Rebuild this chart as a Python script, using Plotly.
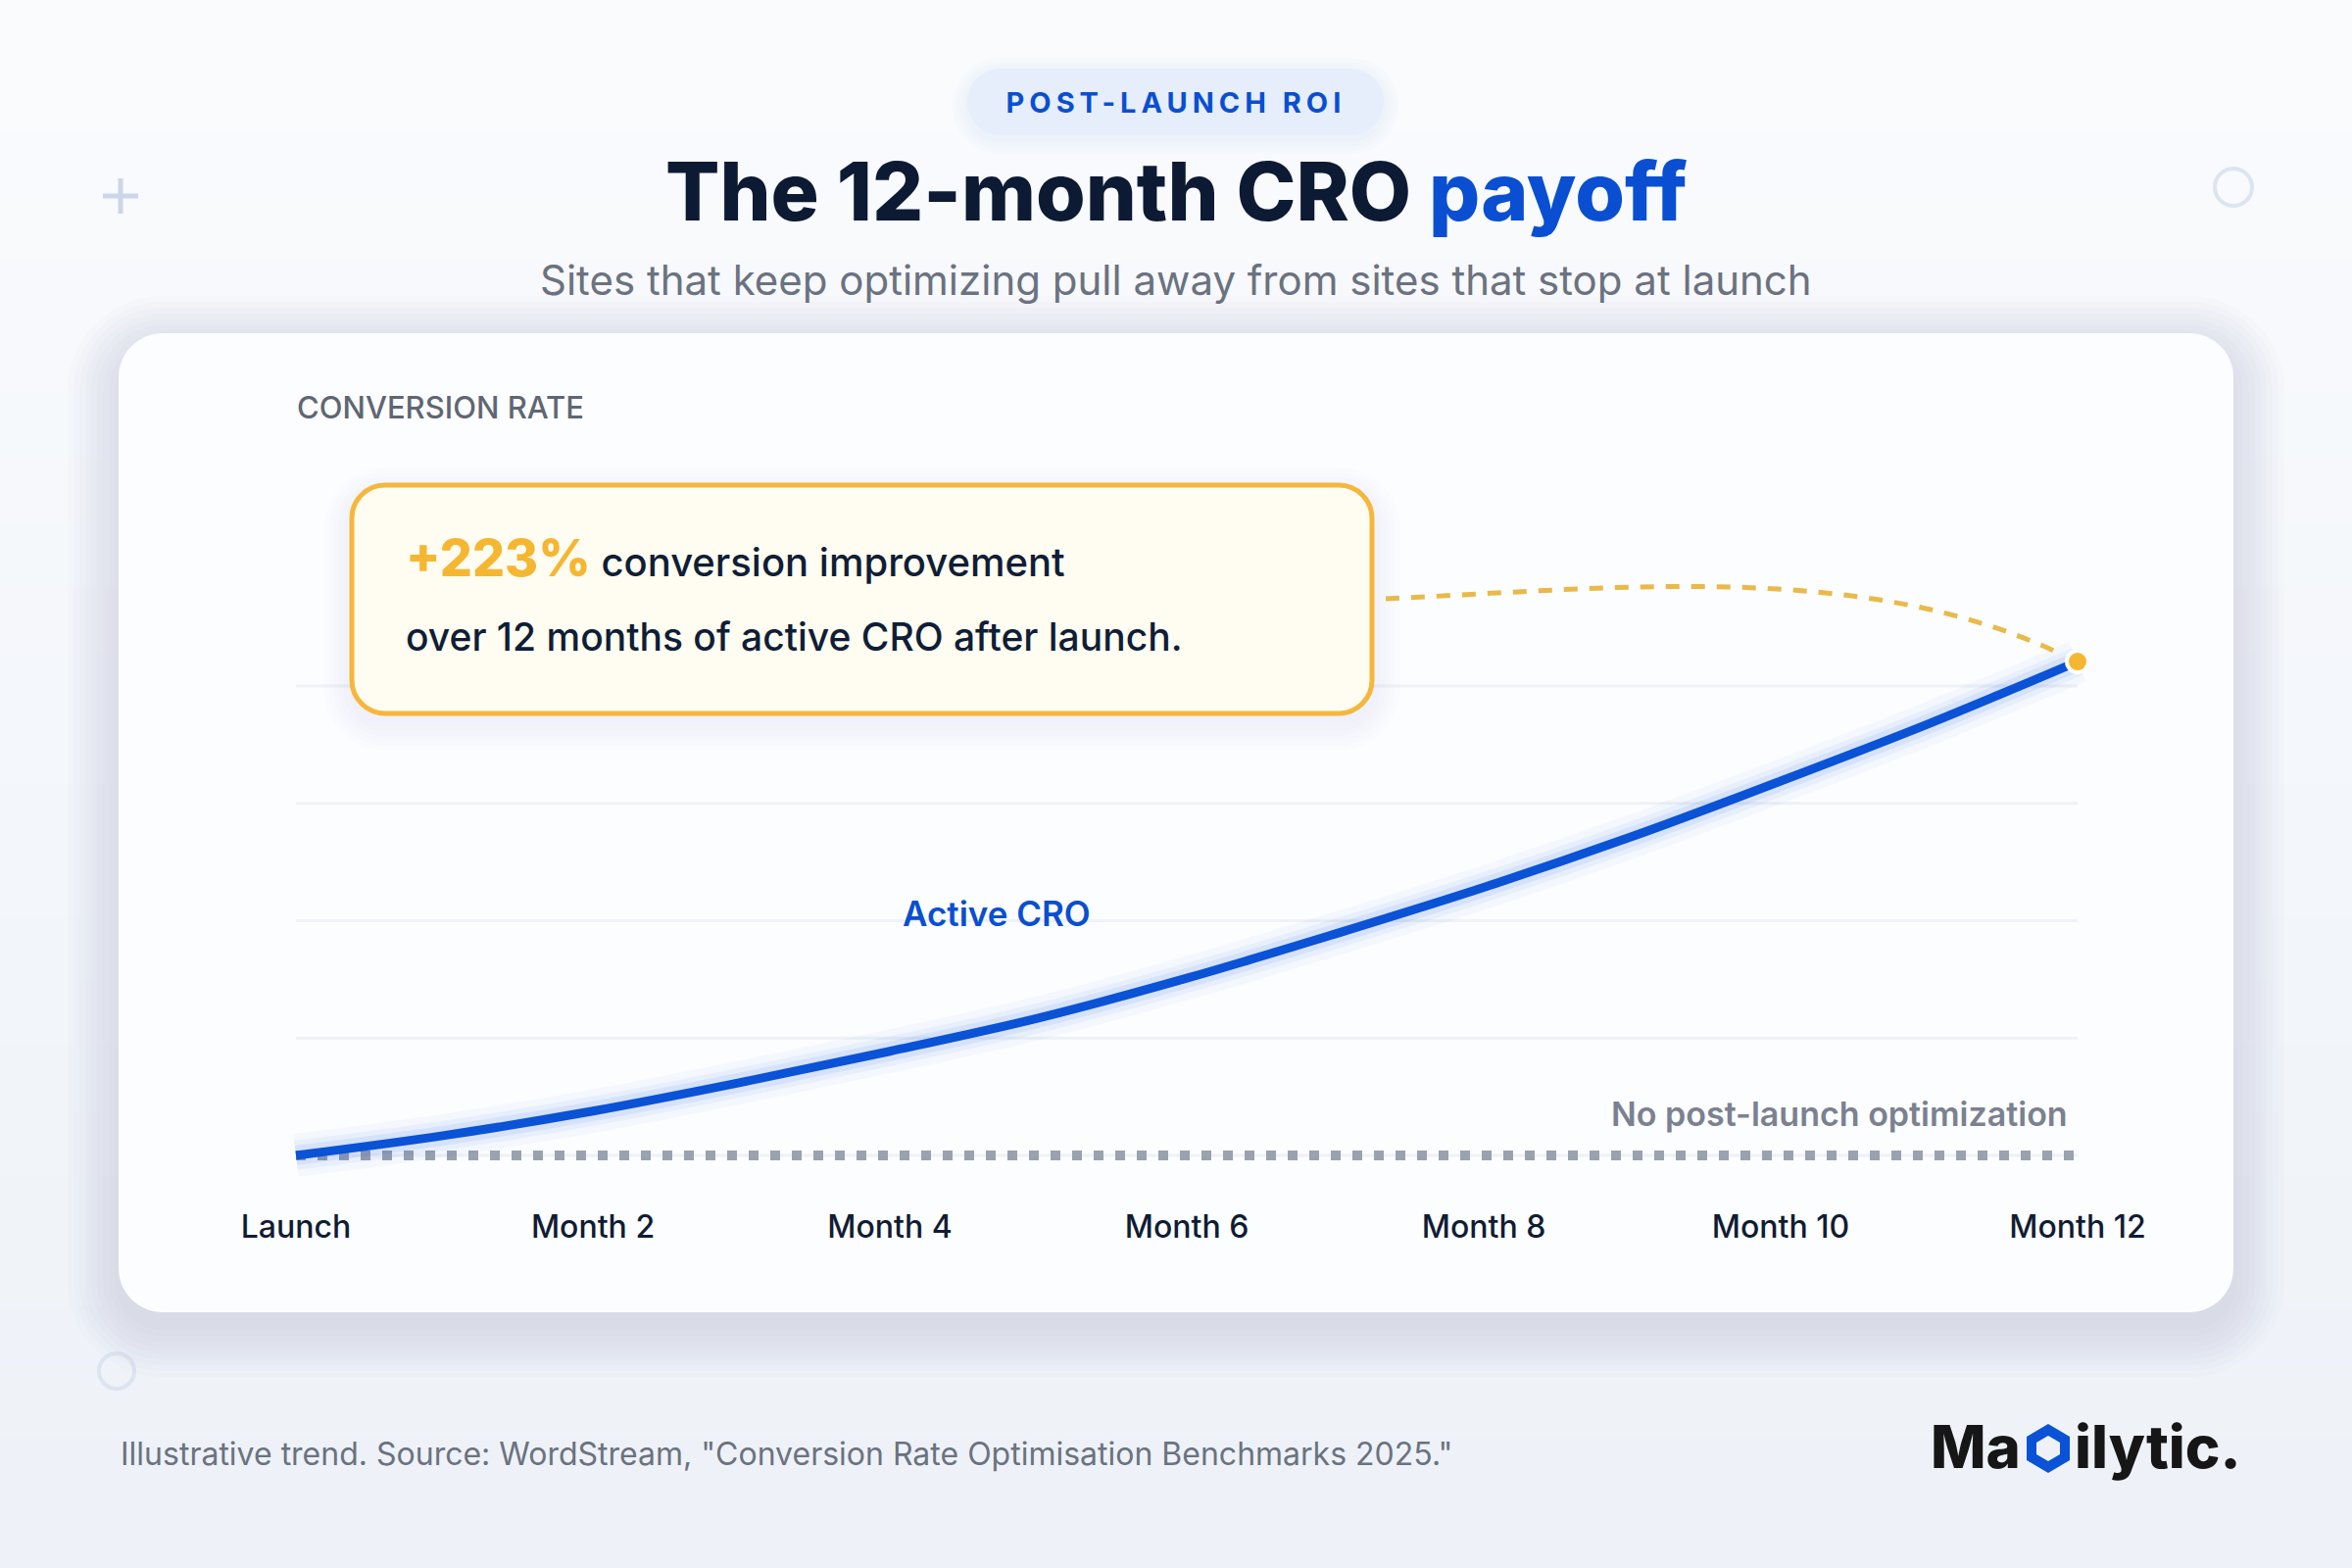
import plotly.graph_objects as go

# ---------------- data ----------------
MONTHS = list(range(13))
TICK_VALUES = [0, 2, 4, 6, 8, 10, 12]
TICK_LABELS = ["Launch", "Month 2", "Month 4", "Month 6", "Month 8", "Month 10", "Month 12"]
ACTIVE_LIFT = [0, 9, 20, 33, 47, 62, 80, 100, 121, 144, 169, 195, 223]   # % over launch
NO_OPT_LIFT = [0, 0, 0, 0, 0, 0, 0, 0, 0, 0, 0, 0, 0]
GRID_LIFT = [0, 53, 106, 159, 212]
HEADLINE_LIFT = 223

# ---------------- layout constants ----------------
W, H = 2400, 1600
PL, PR, PT, PB = 272, 2150, 560, 1200          # plot area in pixels
X_RANGE = [-0.198, 12.198]
Y_RANGE = [-9.3, 273.9]
FONT = "Inter, 'Noto Sans', sans-serif"

BLUE = "#0a52d6"
NAVY = "#0c1a33"
ORANGE = "#f5b731"
GREY = "#6b7280"


def px(x):
    return (x - PL) / (PR - PL)


def py(y):
    return (PB - y) / (PB - PT)


def P(x, y):
    return f"{px(x):.5f},{py(y):.5f}"


def rrect(x0, y0, x1, y1, r):
    k = 0.5523 * r
    return (f"M {P(x0 + r, y0)} L {P(x1 - r, y0)} "
            f"C {P(x1 - r + k, y0)} {P(x1, y0 + r - k)} {P(x1, y0 + r)} "
            f"L {P(x1, y1 - r)} "
            f"C {P(x1, y1 - r + k)} {P(x1 - r + k, y1)} {P(x1 - r, y1)} "
            f"L {P(x0 + r, y1)} "
            f"C {P(x0 + r - k, y1)} {P(x0, y1 - r + k)} {P(x0, y1 - r)} "
            f"L {P(x0, y0 + r)} "
            f"C {P(x0, y0 + r - k)} {P(x0 + r - k, y0)} {P(x0 + r, y0)} Z")


def path_shape(path, fill=None, line_color=None, line_width=0, opacity=1.0, layer="below", dash=None):
    d = dict(type="path", xref="paper", yref="paper", path=path, layer=layer, opacity=opacity,
             line=dict(width=line_width, color=line_color or "rgba(0,0,0,0)"))
    if dash:
        d["line"]["dash"] = dash
    if fill:
        d["fillcolor"] = fill
    return d


def ann(text, x, y, size, color, xanchor="center", weight=400, yanchor="middle"):
    return dict(text=text, x=px(x), y=py(y), xref="paper", yref="paper",
                xanchor=xanchor, yanchor=yanchor, showarrow=False,
                font=dict(family=FONT, size=size, color=color, weight=weight))


def lerp_color(c0, c1, t):
    a = [int(c0[i:i + 2], 16) for i in (1, 3, 5)]
    b = [int(c1[i:i + 2], 16) for i in (1, 3, 5)]
    return "#" + "".join(f"{round(a[i] + (b[i] - a[i]) * t):02x}" for i in range(3))


shapes = []

# page background gradient
N_BANDS = 24
for i in range(N_BANDS):
    y0 = H * i / N_BANDS
    y1 = H * (i + 1) / N_BANDS + 1
    shapes.append(dict(type="rect", xref="paper", yref="paper", x0=px(0), x1=px(W),
                       y0=py(y1), y1=py(y0), layer="below", line=dict(width=0),
                       fillcolor=lerp_color("#f9fbfd", "#eef2f8", i / (N_BANDS - 1))))

# decorations
shapes.append(dict(type="line", xref="paper", yref="paper", x0=px(105), x1=px(141), y0=py(200), y1=py(200),
                   line=dict(color="#cdd6e8", width=5), layer="below"))
shapes.append(dict(type="line", xref="paper", yref="paper", x0=px(123), x1=px(123), y0=py(182), y1=py(218),
                   line=dict(color="#cdd6e8", width=5), layer="below"))
for cx, cy, r in [(2279, 191, 19), (119, 1399, 18)]:
    shapes.append(dict(type="circle", xref="paper", yref="paper", x0=px(cx - r), x1=px(cx + r),
                       y0=py(cy + r), y1=py(cy - r), line=dict(color="#dce4f1", width=4), layer="below"))

# pill
for i in range(4):
    e = 3 + i * 4
    shapes.append(path_shape(rrect(987 - e, 70 - e + 4, 1412 + e, 138 + e + 4, 34 + e),
                             fill="#c9d6ee", opacity=0.05))
shapes.append(path_shape(rrect(987, 70, 1412, 138, 34), fill="#e6eefc"))

# card shadow
for i in range(9):
    e = 4 + i * 6
    shapes.append(path_shape(rrect(121 - e, 340 - e + 14, 2279 + e, 1339 + e + 14, 45 + e),
                             fill="#a9b5d0", opacity=0.035))
shapes.append(path_shape(rrect(121, 340, 2279, 1339, 45), fill="#fcfdff"))

# gridlines
for g in GRID_LIFT:
    shapes.append(dict(type="line", xref="x", yref="y", x0=MONTHS[0], x1=MONTHS[-1], y0=g, y1=g,
                       line=dict(color="#eef1f6", width=3), layer="below"))

# annotation box (drawn above the grid)
for i in range(6):
    e = 3 + i * 5
    shapes.append(path_shape(rrect(359 - e, 495 - e + 10, 1400 + e, 728 + e + 10, 34 + e),
                             fill="#b9c3d8", opacity=0.03, layer="above"))
shapes.append(path_shape(rrect(359, 495, 1400, 728, 34), fill="#fffcf2", line_color="#f5b73b",
                         line_width=5, layer="above"))

# dashed connector
shapes.append(path_shape(f"M {P(1414, 611)} C {P(1650, 600)} {P(1900, 572)} {P(2100, 666)}",
                         line_color="#e9b949", line_width=5, dash="14px,12px", layer="above"))

# logo icon (two interlocking hooks)
upper = [(2068, 1466), (2090, 1453), (2112, 1466), (2112, 1477), (2102, 1483), (2102, 1472),
         (2090, 1465), (2078, 1472), (2078, 1481), (2068, 1487)]
lower = [(4180 - x, 2956 - y) for x, y in upper]
for poly in (upper, lower):
    path = "M " + " L ".join(P(x, y) for x, y in poly) + " Z"
    shapes.append(path_shape(path, fill="#0a52d6", layer="above"))

# ---------------- traces ----------------
fig = go.Figure()
fig.add_trace(go.Scatter(x=MONTHS, y=NO_OPT_LIFT, mode="lines", hoverinfo="skip",
                         line=dict(color="#9aa1af", width=10, dash="10px,12px")))
for w, a in [(44, 0.03), (30, 0.05), (20, 0.08)]:
    fig.add_trace(go.Scatter(x=MONTHS, y=ACTIVE_LIFT, mode="lines", hoverinfo="skip",
                             line=dict(color=f"rgba(10,82,214,{a})", width=w, shape="spline", smoothing=1.0)))
fig.add_trace(go.Scatter(x=MONTHS, y=ACTIVE_LIFT, mode="lines", hoverinfo="skip",
                         line=dict(color=BLUE, width=9, shape="spline", smoothing=1.0)))
fig.add_trace(go.Scatter(x=[MONTHS[-1]], y=[ACTIVE_LIFT[-1]], mode="markers", hoverinfo="skip",
                         cliponaxis=False,
                         marker=dict(size=22, color=ORANGE, line=dict(color="white", width=4))))

annotations = [
    ann("POST-LAUNCH ROI", 1200, 104, 29, "#0a4fd1", weight=700),
    ann("The 12-month CRO <span style='color:#0a4fd1'>payoff</span>", 1200, 196, 82, NAVY, weight=800),
    ann("Sites that keep optimizing pull away from sites that stop at launch", 1200, 285, 42, GREY),
    ann("CONVERSION RATE", 301, 416, 31, "#5f6673", xanchor="left", weight=500),
    ann(f"<span style='font-size:52px;color:{ORANGE};font-weight:800'>+{HEADLINE_LIFT}%</span> conversion improvement",
        412, 569, 40, "#0f1e36", xanchor="left", weight=500),
    ann("over 12 months of active CRO after launch.", 412, 649, 39, "#0f1e36", xanchor="left", weight=500),
    ann("Active CRO", 1017, 932, 35, "#0a4fd1", weight=600),
    ann("No post-launch optimization", 2112, 1136, 34, "#7b8190", xanchor="right", weight=600),
    ann("Illustrative trend. Source: WordStream, \"Conversion Rate Optimisation Benchmarks 2025.\"",
        121, 1483, 32, GREY, xanchor="left"),
    ann("Ma", 2064, 1476, 60, "#161616", xanchor="right", weight=800),
    ann("ilytic.", 2115, 1476, 60, "#161616", xanchor="left", weight=800),
]

fig.update_layout(
    width=W, height=H,
    margin=dict(l=PL, r=W - PR, t=PT, b=H - PB, pad=0),
    paper_bgcolor="#f4f7fb", plot_bgcolor="rgba(0,0,0,0)",
    showlegend=False,
    shapes=shapes,
    annotations=annotations,
    xaxis=dict(range=X_RANGE, tickvals=TICK_VALUES, ticktext=TICK_LABELS, showgrid=False,
               zeroline=False, showline=False, ticks="", ticklabelstandoff=30,
               tickfont=dict(family=FONT, size=32, color="#111c33", weight=500), fixedrange=True),
    yaxis=dict(range=Y_RANGE, visible=False, fixedrange=True),
    font=dict(family=FONT),
)

POST_JS = """
document.body.style.margin = '0';
document.body.style.background = '#f4f7fb';
function spacePill() {
  document.querySelectorAll('text.annotation-text').forEach(function (t) {
    if (t.textContent === 'POST-LAUNCH ROI') { t.style.letterSpacing = '5px'; }
  });
}
spacePill();
setTimeout(spacePill, 50);
setTimeout(spacePill, 300);
"""

fig.write_html("out.html", config={"displayModeBar": False}, post_script=POST_JS)
